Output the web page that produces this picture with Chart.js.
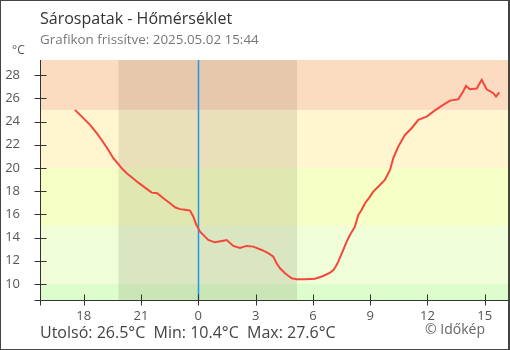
<!DOCTYPE html>
<html>
<head>
<meta charset="utf-8">
<script src="https://cdn.jsdelivr.net/npm/chart.js@4.4.1/dist/chart.umd.min.js"></script>
<style>
  html, body { margin: 0; padding: 0; background: #fff; }
  #wrap { position: relative; width: 510px; height: 350px; font-family: "Open Sans", sans-serif; }
  #wrap canvas { position: absolute; left: 0; top: 0; }
  .txt { position: absolute; white-space: nowrap; line-height: 1; }
  #frame { position: absolute; left: 0; top: 0; width: 510px; height: 350px; box-sizing: border-box;
           border: 1px solid #444; border-right-width: 2px; pointer-events: none; }
</style>
</head>
<body>
<div id="wrap">
  <canvas id="tempChart" width="510" height="350"></canvas>
  <div class="txt" id="title" style="left:40px; top:10px; font-size:16px; color:#333;"></div>
  <div class="txt" id="subtitle" style="left:40px; top:33px; font-size:13.4px; color:#777;"></div>
  <div class="txt" id="unit" style="left:12px; top:44px; font-size:12px; color:#555;"></div>
  <div class="txt" id="footer" style="left:40px; top:324px; font-size:16px; color:#444;"></div>
  <div class="txt" id="credit" style="left:425px; top:322px; font-size:14px; color:#666;"></div>
  <div id="frame"></div>
</div>
<script>
// Texts
const titleText = 'Sárospatak - Hőmérséklet';
const subtitleText = 'Grafikon frissítve: 2025.05.02 15:44';
const unitText = '°C';
const footerText = 'Utolsó: 26.5°C\u00a0 Min: 10.4°C\u00a0 Max: 27.6°C';
const creditText = '© Időkép';

// Measurements: hours relative to midnight (negative = previous evening)
const hours = [
  -6.46, -6.10, -5.67, -5.32, -5.06, -4.71, -4.45, -4.19, -4.01, -3.75,
  -3.49, -3.14, -2.79, -2.44, -2.15, -1.83, -1.48, -1.22, -0.96, -0.70,
  -0.43, -0.26, -0.12, 0.09, 0.35, 0.52, 0.87, 1.23, 1.49, 1.83,
  2.18, 2.53, 2.88, 3.32, 3.66, 3.93, 4.10, 4.28, 4.54, 4.89,
  5.15, 5.59, 6.11, 6.54, 6.90, 7.07, 7.20, 7.33, 7.59, 7.77,
  7.94, 8.20, 8.38, 8.55, 8.73, 8.99, 9.16, 9.34, 9.77, 10.04,
  10.21, 10.47, 10.82, 11.17, 11.52, 11.96, 12.30, 12.74, 13.18, 13.61,
  13.87, 14.02, 14.22, 14.58, 14.84, 15.10, 15.45, 15.59, 15.76
];
const temps = [
  25.0, 24.42, 23.71, 22.99, 22.41, 21.55, 20.84, 20.34, 19.97, 19.54,
  19.20, 18.73, 18.30, 17.87, 17.82, 17.39, 16.96, 16.61, 16.45, 16.40,
  16.32, 15.80, 15.17, 14.51, 14.08, 13.79, 13.59, 13.71, 13.79, 13.28,
  13.10, 13.28, 13.22, 12.93, 12.65, 12.35, 11.78, 11.35, 10.92, 10.49,
  10.4, 10.4, 10.46, 10.69, 10.97, 11.2, 11.5, 11.92, 12.93, 13.65,
  14.22, 14.94, 15.95, 16.38, 16.96, 17.53, 17.96, 18.25, 18.97, 19.83,
  20.84, 21.84, 22.84, 23.42, 24.14, 24.42, 24.85, 25.34, 25.80, 25.92,
  26.58, 27.07, 26.78, 26.84, 27.6, 26.78, 26.44, 26.15, 26.5
];

// Axes
const xTickHours = [-6, -3, 0, 3, 6, 9, 12, 15];
const xTickLabels = ['18', '21', '0', '3', '6', '9', '12', '15'];
const yTickValues = [10, 12, 14, 16, 18, 20, 22, 24, 26, 28];
const xRange = [-8.29, 16.27];
const yRange = [8.62, 29.3];

// Temperature bands (lower, upper) and night period
const bandLimits = [[-50, 10], [10, 15], [15, 20], [20, 25], [25, 50]];
const bandColors = ['#ddfdcc', '#effdd8', '#f5fec4', '#fff6d0', '#fcdcc0'];
const nightPeriod = [-4.18, 5.17];
const midnightHour = 0;

document.getElementById('title').textContent = titleText;
document.getElementById('subtitle').textContent = subtitleText;
document.getElementById('unit').textContent = unitText;
document.getElementById('footer').textContent = footerText;
document.getElementById('credit').textContent = creditText;

const backgroundPlugin = {
  id: 'background',
  beforeDatasetsDraw(chart) {
    const { ctx, chartArea: area, scales: { x, y } } = chart;
    ctx.save();
    ctx.beginPath();
    ctx.rect(area.left, area.top, area.right - area.left, area.bottom - area.top);
    ctx.clip();
    // colored temperature bands
    bandLimits.forEach((b, i) => {
      const top = y.getPixelForValue(b[1]);
      const bottom = y.getPixelForValue(b[0]);
      ctx.fillStyle = bandColors[i];
      ctx.fillRect(area.left, top, area.right - area.left, bottom - top);
    });
    // night shading
    const n0 = x.getPixelForValue(nightPeriod[0]);
    const n1 = x.getPixelForValue(nightPeriod[1]);
    ctx.fillStyle = 'rgba(40,30,0,0.1)';
    ctx.fillRect(n0, area.top, n1 - n0, area.bottom - area.top);
    // midnight line
    const mx = Math.round(x.getPixelForValue(midnightHour)) + 0.5;
    ctx.strokeStyle = '#1e96f0';
    ctx.lineWidth = 1.5;
    ctx.beginPath();
    ctx.moveTo(mx, area.top);
    ctx.lineTo(mx, area.bottom);
    ctx.stroke();
    ctx.restore();
  },
  afterDraw(chart) {
    const { ctx, chartArea: area, scales: { x, y } } = chart;
    ctx.save();
    ctx.strokeStyle = '#333';
    ctx.lineWidth = 1;
    const ax = Math.round(area.left) + 0.5;
    const ay = Math.round(area.bottom) + 0.5;
    ctx.beginPath();
    // axis lines
    ctx.moveTo(ax, area.top);
    ctx.lineTo(ax, ay + 5);
    ctx.moveTo(ax - 6, ay);
    ctx.lineTo(area.right, ay);
    // ticks crossing the axes
    yTickValues.forEach(v => {
      const py = Math.round(y.getPixelForValue(v)) + 0.5;
      ctx.moveTo(ax - 6, py);
      ctx.lineTo(ax + 6, py);
    });
    xTickHours.forEach(v => {
      const px = Math.round(x.getPixelForValue(v)) + 0.5;
      ctx.moveTo(px, ay - 6);
      ctx.lineTo(px, ay + 5);
    });
    ctx.stroke();
    ctx.restore();
  }
};

const ctx = document.getElementById('tempChart').getContext('2d');

const tempChart = new Chart(ctx, {
  type: 'line',
  data: {
    datasets: [{
      data: hours.map((h, i) => ({ x: h, y: temps[i] })),
      borderColor: '#f4473c',
      borderWidth: 2,
      pointRadius: 0,
      tension: 0,
      fill: false
    }]
  },
  options: {
    responsive: false,
    animation: false,
    events: [],
    layout: { padding: { top: 60, right: 1, left: 0, bottom: 0 } },
    plugins: {
      legend: { display: false },
      tooltip: { enabled: false }
    },
    scales: {
      x: {
        type: 'linear',
        min: xRange[0],
        max: xRange[1],
        grid: { display: false, drawTicks: false },
        border: { display: false },
        afterBuildTicks: scale => { scale.ticks = xTickHours.map(v => ({ value: v })); },
        afterFit: scale => { scale.height = 50; },
        ticks: {
          padding: 8,
          color: '#555',
          font: { family: 'Open Sans', size: 13 },
          maxRotation: 0,
          callback: v => xTickLabels[xTickHours.indexOf(v)]
        }
      },
      y: {
        min: yRange[0],
        max: yRange[1],
        grid: { display: false, drawTicks: false },
        border: { display: false },
        afterBuildTicks: scale => { scale.ticks = yTickValues.map(v => ({ value: v })); },
        afterFit: scale => { scale.width = 40; },
        ticks: {
          padding: 20,
          color: '#555',
          font: { family: 'Open Sans', size: 13 }
        }
      }
    }
  },
  plugins: [backgroundPlugin]
});
</script>
</body>
</html>
